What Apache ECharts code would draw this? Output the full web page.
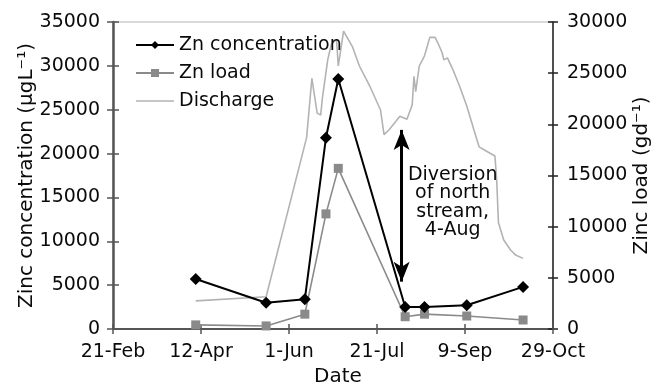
<!DOCTYPE html>
<html>
<head>
<meta charset="utf-8">
<script src="https://cdn.jsdelivr.net/npm/echarts@6/dist/echarts.min.js"></script>
<style>
  html, body { margin: 0; padding: 0; background: #fff; }
  #chart { width: 658px; height: 385px; }
</style>
</head>
<body>
<div id="chart"></div>
<script>
// Days are counted from 21-Feb; ticks every 50 days.
const tickLabels = ['21-Feb', '12-Apr', '1-Jun', '21-Jul', '9-Sep', '29-Oct'];

// Sampling days and zinc results
const sampleDays = [47, 87, 109, 121, 128, 166, 177, 201, 233];
const znConcentration = [5700, 3000, 3400, 21800, 28500, 2500, 2500, 2700, 4800]; // µg/L
const znLoad = [400, 300, 1450, 11250, 15700, 1200, 1450, 1270, 880];              // g/d

// Stream discharge record (plotted against the right-hand scale)
const dischargeDays = [47, 87, 110, 113, 116, 118, 119, 122, 124, 127, 128, 131, 136, 140, 146, 152, 154, 157,
  163, 167, 170, 171, 172, 174, 177, 180, 183, 185, 187, 188, 190, 193, 197, 201, 205, 208, 212, 217, 218,
  219, 222, 226, 229, 233];
const dischargeValues = [2750, 3150, 18700, 24500, 21100, 20900, 22600, 26300, 27800, 28300, 25700, 29100, 27600,
  25700, 23700, 21400, 19000, 19500, 20800, 20500, 21900, 24700, 23200, 25700, 26700, 28500, 28500, 27800,
  27000, 26300, 26500, 25400, 23700, 21800, 19500, 17800, 17400, 16900, 14600, 10400, 8700, 7700, 7200, 6900];

// Diversion of the north stream on 4-Aug
const diversionDay = 164;
const diversionSpan = [5400, 22700];       // arrow extent, concentration units
const diversionNote = ['Diversion', 'of north', 'stream,', '4-Aug'];
const noteAnchor = [193, 14400];

const FONT = 'DejaVu Sans';
const INK = '#0a0a0a';
const pairs = (xs, ys) => xs.map((x, i) => [x, ys[i]]);

const chart = echarts.init(document.getElementById('chart'));

const gridRect = { left: 113, right: 105, top: 22, bottom: 56, outerBoundsMode: 'none', containLabel: false };
const xBase = { type: 'value', min: 0, max: 250, interval: 50 };
const yLeftBase = { type: 'value', min: 0, max: 35000, interval: 5000, position: 'left' };
const yRightBase = { type: 'value', min: 0, max: 30000, interval: 5000, position: 'right' };
const noLine = { axisLine: { show: false }, axisLabel: { show: false }, splitLine: { show: false } };

chart.setOption({
  animation: false,
  backgroundColor: '#fff',
  textStyle: { fontFamily: FONT },
  grid: [
    Object.assign({}, gridRect, { show: true, borderColor: '#b4b4b4', borderWidth: 1, backgroundColor: 'transparent' }),
    // twin grid carrying the inward half of the crossing tick marks
    Object.assign({}, gridRect, { show: false })
  ],
  legend: {
    orient: 'vertical', left: 130, top: 30,
    itemWidth: 38, itemHeight: 10, itemGap: 8,
    textStyle: { fontFamily: FONT, fontSize: 19, color: INK, lineHeight: 20 },
    data: [
      'Zn concentration',
      'Zn load',
      { name: 'Discharge', itemStyle: { color: 'rgba(0,0,0,0)' }, lineStyle: { color: '#b3b3b3', width: 1.6 } }
    ]
  },
  xAxis: [
    Object.assign({}, xBase, {
      gridIndex: 0,
      name: 'Date', nameLocation: 'middle', nameGap: 38, nameMoveOverlap: false,
      nameTextStyle: { fontFamily: FONT, fontSize: 20, color: INK, padding: [0, 0, 0, 10] },
      axisLine: { show: true, lineStyle: { color: '#555', width: 2 } },
      axisTick: { show: true, inside: false, length: 5, lineStyle: { color: '#555', width: 1.5 } },
      axisLabel: { fontFamily: FONT, fontSize: 19, color: INK, margin: 14,
        formatter: v => tickLabels[Math.round(v / 50)] },
      splitLine: { show: false }
    }),
    Object.assign({}, xBase, noLine, {
      gridIndex: 1, position: 'bottom',
      axisTick: { show: true, inside: true, length: 5, lineStyle: { color: '#555', width: 1.5 } }
    })
  ],
  yAxis: [
    Object.assign({}, yLeftBase, {
      gridIndex: 0,
      name: 'Zinc concentration (µgL⁻¹)', nameLocation: 'middle', nameGap: 76, nameRotate: 90,
      nameMoveOverlap: false,
      nameTextStyle: { fontFamily: FONT, fontSize: 20, color: INK },
      axisLine: { show: true, lineStyle: { color: '#555', width: 2.5 } },
      axisTick: { show: true, inside: false, length: 6, lineStyle: { color: '#555', width: 1.5 } },
      axisLabel: { fontFamily: FONT, fontSize: 19, color: INK, margin: 13, formatter: v => String(v) },
      splitLine: { show: false }
    }),
    Object.assign({}, yRightBase, {
      gridIndex: 0,
      name: 'Zinc load (gd⁻¹)', nameLocation: 'middle', nameGap: 79, nameRotate: 90,
      nameMoveOverlap: false,
      nameTextStyle: { fontFamily: FONT, fontSize: 20, color: INK },
      axisLine: { show: true, lineStyle: { color: '#222', width: 1.5 } },
      axisTick: { show: true, inside: false, length: 5, lineStyle: { color: '#222', width: 1.5 } },
      axisLabel: { fontFamily: FONT, fontSize: 19, color: INK, margin: 14, formatter: v => String(v) },
      splitLine: { show: false }
    }),
    Object.assign({}, yLeftBase, noLine, {
      gridIndex: 1,
      axisTick: { show: true, inside: true, length: 6, lineStyle: { color: '#555', width: 1.5 } }
    }),
    Object.assign({}, yRightBase, noLine, {
      gridIndex: 1,
      axisTick: { show: true, inside: true, length: 5, lineStyle: { color: '#222', width: 1.5 } }
    })
  ],
  series: [
    {
      name: 'Discharge', type: 'line', xAxisIndex: 0, yAxisIndex: 1,
      data: pairs(dischargeDays, dischargeValues),
      showSymbol: false, symbol: 'none',
      lineStyle: { color: '#b3b3b3', width: 1.6 },
      itemStyle: { color: '#b3b3b3' }, z: 1
    },
    {
      name: 'Zn load', type: 'line', xAxisIndex: 0, yAxisIndex: 1,
      data: pairs(sampleDays, znLoad),
      symbol: 'rect', symbolSize: 9,
      lineStyle: { color: '#8a8a8a', width: 1.6 },
      itemStyle: { color: '#8a8a8a' }, z: 2
    },
    {
      name: 'Zn concentration', type: 'line', xAxisIndex: 0, yAxisIndex: 0,
      data: pairs(sampleDays, znConcentration),
      symbol: 'diamond', symbolSize: 12,
      lineStyle: { color: '#000', width: 2 },
      itemStyle: { color: '#000' }, z: 3,
      markLine: {
        silent: true, animation: false,
        symbol: ['arrow', 'arrow'], symbolSize: [12, 20],
        lineStyle: { color: '#000', width: 3, type: 'solid' },
        label: { show: false },
        data: [[{ coord: [diversionDay, diversionSpan[0]] }, { coord: [diversionDay, diversionSpan[1]] }]]
      },
      markPoint: {
        silent: true, animation: false,
        symbol: 'circle', symbolSize: 0,
        label: {
          show: true, position: 'inside', formatter: diversionNote.join('\n'),
          fontFamily: FONT, fontSize: 19, lineHeight: 18.5, color: INK, align: 'center'
        },
        data: [{ coord: noteAnchor }]
      }
    }
  ]
});
</script>
</body>
</html>
